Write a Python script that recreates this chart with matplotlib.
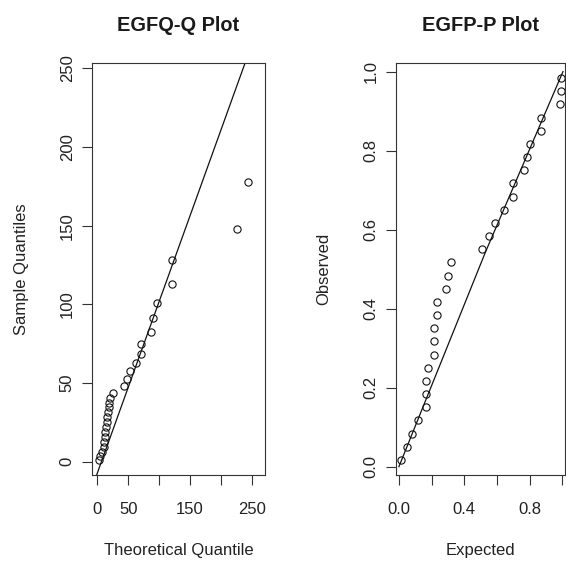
import matplotlib.pyplot as plt

plt.rcParams['font.family'] = ['Liberation Sans', 'DejaVu Sans']
plt.rcParams['text.color'] = '#1a1a1a'

# EGF quantile plot: theoretical vs sample quantiles
theoretical_q = [2.3, 4.8, 7.6, 10.3, 11.3, 12.0, 12.9, 14.5, 15.2, 15.7,
                 16.8, 18.4, 19.4, 21.0, 24.9, 43.0, 47.5, 52.8, 62.5, 70.6,
                 70.0, 86.3, 90.5, 96.0, 120.7, 120.7, 225.0, 244.0]
sample_q = [1.1, 3.6, 6.4, 9.5, 12.7, 15.9, 19.1, 22.3, 25.4, 28.6,
            31.4, 34.6, 37.1, 40.3, 43.5, 48.0, 52.6, 57.7, 62.5, 68.7,
            75.0, 82.5, 91.0, 100.7, 113.0, 128.0, 148.0, 178.0]
qq_intercept = -7.4
qq_slope = 1.092

# EGF probability plot: expected vs observed cumulative probabilities
expected_p = [0.012, 0.047, 0.078, 0.114, 0.165, 0.165, 0.165, 0.180, 0.214, 0.214,
              0.214, 0.231, 0.231, 0.286, 0.298, 0.318, 0.506, 0.551, 0.588, 0.645,
              0.700, 0.700, 0.767, 0.783, 0.802, 0.869, 0.869, 0.985, 0.990, 0.990]
observed_p = [0.017, 0.050, 0.083, 0.117, 0.150, 0.183, 0.217, 0.250, 0.283, 0.317,
              0.350, 0.383, 0.417, 0.450, 0.483, 0.517, 0.550, 0.583, 0.617, 0.650,
              0.683, 0.717, 0.750, 0.783, 0.817, 0.850, 0.883, 0.917, 0.950, 0.983]
pp_ref_x = [0.0, 0.530, 1.005]
pp_ref_y = [0.0, 0.543, 1.0]

fig = plt.figure(figsize=(5.66, 5.62), dpi=100)
ax1 = fig.add_axes([0.162, 0.1548, 0.3062, 0.7326])
ax2 = fig.add_axes([0.699, 0.1548, 0.300, 0.7326])


def r_style(ax):
    for s in ax.spines.values():
        s.set_linewidth(0.8)
        s.set_color('#333333')
    ax.tick_params(direction='out', length=7.2, width=0.8, color='#333333',
                   labelsize=12, labelcolor='#222222')
    ax.tick_params(axis='x', pad=12.5)
    ax.tick_params(axis='y', pad=5)


marker = dict(marker='o', ls='none', ms=5.2, mfc='none', mec='#111111', mew=0.8)

# left panel
ax1.plot(theoretical_q, sample_q, **marker)
ax1.axline((0, qq_intercept), slope=qq_slope, color='#111111', lw=0.9)
ax1.set_xlim(-9.0, 271)
ax1.set_ylim(-8.5, 253.2)
ax1.set_xticks([0, 50, 100, 150, 200, 250])
ax1.set_xticklabels(['0', '50', '', '150', '', '250'])
ax1.set_yticks([0, 50, 100, 150, 200, 250])
ax1.set_yticklabels(['0', '50', '100', '150', '200', '250'], rotation=90, va='center')
r_style(ax1)
ax1.set_title('EGFQ-Q Plot', fontsize=14.4, fontweight='bold', pad=23.5)
ax1.set_xlabel('Theoretical Quantile', fontsize=12, color='#222222')
ax1.set_ylabel('Sample Quantiles', fontsize=12, color='#222222')
ax1.xaxis.set_label_coords(0.5, -0.165)
ax1.yaxis.set_label_coords(-0.36, 0.5)

# right panel
ax2.plot(expected_p, observed_p, **marker)
ax2.plot(pp_ref_x, pp_ref_y, color='#111111', lw=0.9)
ax2.set_xlim(-0.02, 1.02)
ax2.set_ylim(-0.021, 1.021)
ax2.set_xticks([0.0, 0.2, 0.4, 0.6, 0.8, 1.0])
ax2.set_xticklabels(['0.0', '', '0.4', '', '0.8', ''])
ax2.set_yticks([0.0, 0.2, 0.4, 0.6, 0.8, 1.0])
ax2.set_yticklabels(['0.0', '0.2', '0.4', '0.6', '0.8', '1.0'], rotation=90, va='center')
r_style(ax2)
ax2.set_title('EGFP-P Plot', fontsize=14.4, fontweight='bold', pad=23.5)
ax2.set_xlabel('Expected', fontsize=12, color='#222222')
ax2.set_ylabel('Observed', fontsize=12, color='#222222')
ax2.xaxis.set_label_coords(0.5, -0.165)
ax2.yaxis.set_label_coords(-0.38, 0.5)

fig.savefig('out.png', dpi=100)
